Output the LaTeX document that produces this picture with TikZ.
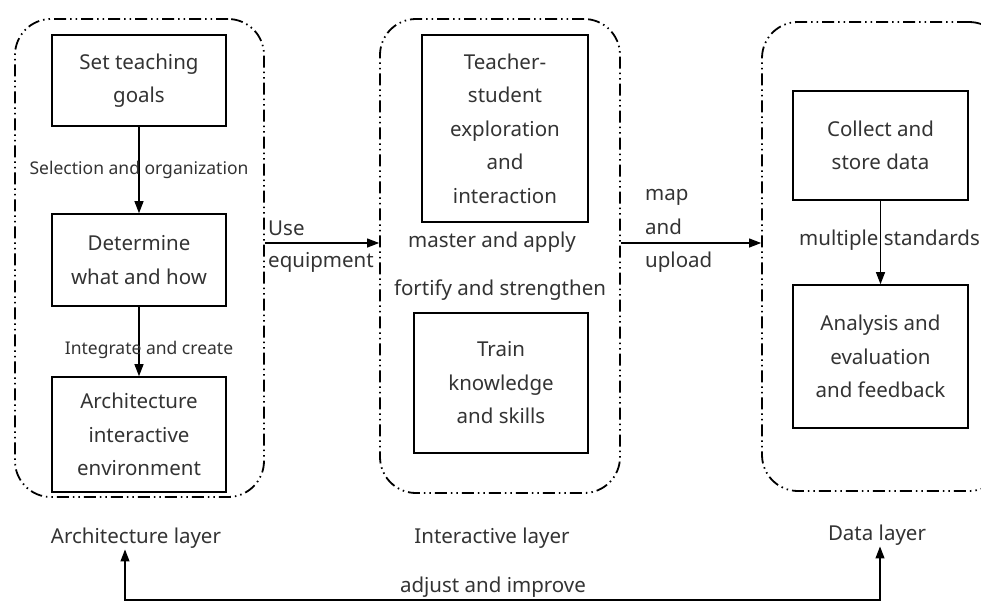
\documentclass[tikz,border=0pt]{standalone}
\usepackage{fontspec}
\setmainfont{Noto Sans}
\usetikzlibrary{arrows.meta}
\begin{document}
\begin{tikzpicture}[x=1pt,y=-1pt,
    >={Triangle[length=12pt,width=9pt]},
    box/.style={draw,line width=1.6pt,text=black!80,align=center,inner sep=0pt,
        font=\fontsize{20.5}{33.5}\selectfont},
    layer/.style={draw,line width=1.8pt,rounded corners=36pt,
        dash pattern=on 12pt off 4pt on 1.5pt off 4pt on 1.5pt off 4pt},
    lbl/.style={text=black!80,inner sep=1pt,font=\fontsize{20.5}{33.5}\selectfont},
    small/.style={text=black!80,inner sep=0pt,font=\fontsize{17.5}{21}\selectfont},
    conn/.style={->,line width=1.1pt}]
    \clip (0,0) rectangle (981,603);

    \node[layer,minimum width=249pt,minimum height=478pt] (arch) at (139.5,258) {};
    \node[layer,minimum width=240pt,minimum height=474pt] (inter) at (500,256) {};
    \node[layer,minimum width=243pt,minimum height=469pt] (data) at (883.5,256.5) {};

    \node[box,minimum width=174pt,minimum height=91pt] (goals) at (139,80.5) {Set teaching\\goals};
    \node[box,minimum width=174pt,minimum height=92pt] (what) at (139,260) {Determine\\what and how};
    \node[box,minimum width=174pt,minimum height=115pt] (env) at (139,434.5) {Architecture\\interactive\\environment};

    \node[box,minimum width=166pt,minimum height=187pt] (teach) at (505,128.5) {Teacher-\\student\\exploration\\and\\interaction};
    \node[box,minimum width=174pt,minimum height=140pt] (train) at (501,383) {Train\\knowledge\\and skills};

    \node[box,minimum width=175pt,minimum height=109pt] (collect) at (880.5,145.5) {Collect and\\store data};
    \node[box,minimum width=175pt,minimum height=143pt] (analysis) at (880.5,356.5) {Analysis and\\evaluation\\and feedback};

    \draw[conn] (goals) -- node[small] {Selection and organization} (what);
    \draw[conn] (what) -- node[small,pos=.62,xshift=10pt] {Integrate and create} (env);
    \draw[conn] (collect) -- node[lbl,pos=.47,xshift=9pt] {multiple standards} (analysis);

    \node[lbl] (master) at (492,242) {master and apply};
    \node[lbl] (fortify) at (500,290) {fortify and strengthen};

    \draw[conn] ([yshift=15pt]arch.east) -- ([yshift=15pt]arch.east -| inter.west);
    \node[lbl,anchor=west] (use) at (267,228) {Use};
    \node[lbl,anchor=west] (equip) at (267,262) {equipment};

    \draw[conn] ([yshift=13pt]inter.east) -- ([yshift=13pt]inter.east -| data.west);
    \node[lbl,anchor=west,align=left] (map) at (644,231) {map\\and\\upload};

    \node[lbl] (alayer) at (136,538) {Architecture layer};
    \node[lbl] (ilayer) at (492,538) {Interactive layer};
    \node[lbl] (dlayer) at (877,535) {Data layer};

    \coordinate (fb) at (500,600);
    \draw[<->,line width=1.1pt] ([xshift=-11pt]alayer.south) |- (fb) -| ([xshift=3pt]dlayer.south);
    \node[lbl] (adjust) at (493,587) {adjust and improve};
\end{tikzpicture}
\end{document}
